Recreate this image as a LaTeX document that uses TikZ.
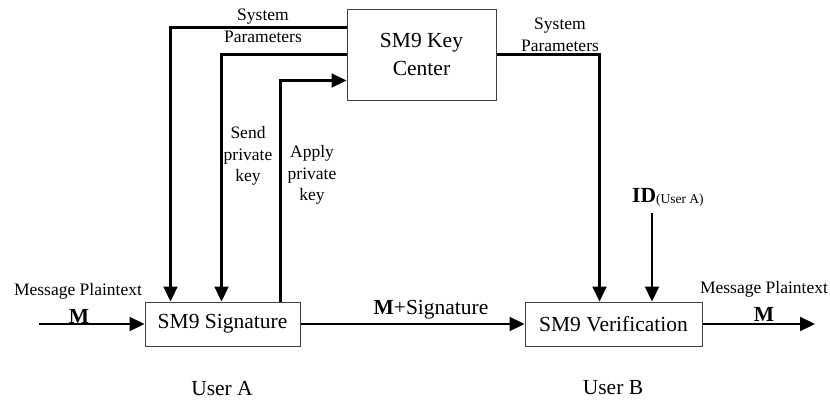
\documentclass[tikz,border=0pt]{standalone}
\usepackage{fontspec}
\setmainfont{Liberation Serif}
\usetikzlibrary{arrows.meta}
\begin{document}
\begin{tikzpicture}[x=1pt,y=-1pt,
  blk/.style={draw=black!75,line width=1pt,rectangle,inner sep=0pt,font=\fontsize{21.5}{26}\selectfont,align=center},
  conn/.style={line width=2.2pt,line cap=butt},
  arr/.style={conn,-{Triangle[length=15pt,width=14pt]}},
  small/.style={inner sep=0pt,font=\fontsize{17.5}{21.5}\selectfont,align=center},
  big/.style={inner sep=0pt,font=\fontsize{21.5}{26}\selectfont,align=center}]
\useasboundingbox (0,0) rectangle (830,400);
% blocks
\node[blk,minimum width=149pt,minimum height=91pt] (kc) at (421.5,54.5) {SM9 Key\\[2pt]Center};
\node[blk,minimum width=155pt,minimum height=44pt] (sig) at (222.5,324) {SM9 Signature};
\node[blk,minimum width=177pt,minimum height=44pt] (ver) at (613.5,324) {SM9 Verification};
% free ends
\coordinate (inl) at (39,324);
\coordinate (outr) at (815,324);
\coordinate (idtop) at (652,213);
% connectors
\draw[arr] ([yshift=-19pt]kc.north west) -| ([xshift=26pt]sig.north west);
\draw[arr] ([yshift=-46pt]kc.north west) -| ([xshift=77pt]sig.north west);
\draw[arr] ([xshift=136pt]sig.north west) |- ([yshift=-72pt]kc.north west);
\draw[arr] ([yshift=-46pt]kc.north east) -| ([xshift=75pt]ver.north west);
\draw[arr] (idtop) -- (idtop |- ver.north);
\draw[arr] (inl) -- (sig.west);
\draw[arr] (sig.east) -- (ver.west);
\draw[arr] (ver.east) -- (outr);
% labels
\node[small] (spl) at (263,26) {System\\Parameters};
\node[small] (spr) at (560,35) {System\\Parameters};
\node[small] (spk) at (248,156) {Send\\private\\key};
\node[small] (apk) at (312,175) {Apply\\private\\key};
\node[small] (mpl) at (78,291) {Message Plaintext};
\node[big] (ml) at (79,316) {\textbf{M}};
\node[small] (mpr) at (764,289) {Message Plaintext};
\node[big] (mr) at (764,314) {\textbf{M}};
\node[big] (msig) at (431,310) {\textbf{M}+Signature};
\node[big,anchor=base west] (idl) at (632,202) {\textbf{ID}\raisebox{-1.5pt}{\fontsize{13.5}{16}\selectfont(User A)}};
\node[big] (ua) at (222,388) {User A};
\node[big] (ub) at (613,388) {User B};
\end{tikzpicture}
\end{document}
